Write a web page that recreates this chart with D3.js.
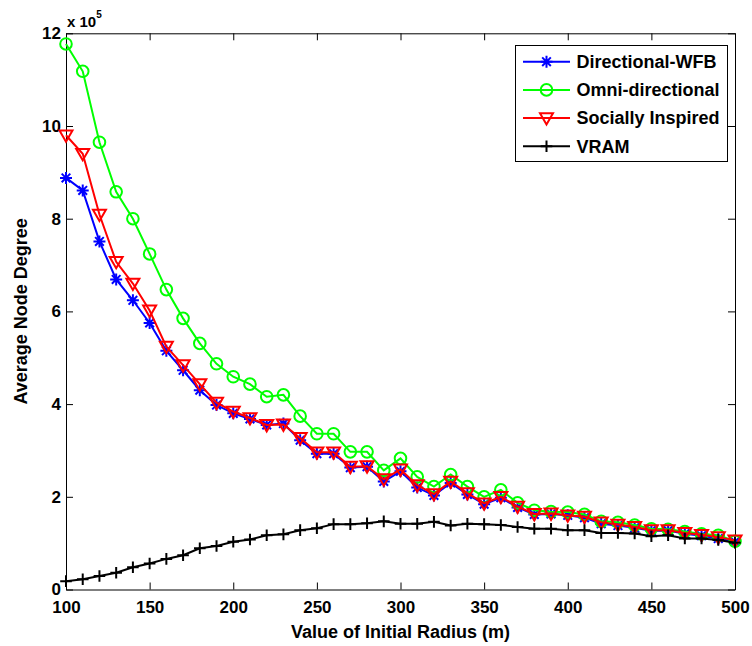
<!DOCTYPE html>
<html><head><meta charset="utf-8">
<script src="https://cdn.jsdelivr.net/npm/d3@7"></script>
<style>body{margin:0;background:#fff}svg{display:block}text{font-family:"Liberation Sans",Arial,sans-serif;font-weight:bold;fill:#000}</style>
</head><body><div id="chart"></div>
<script>
const radius = [100,110,120,130,140,150,160,170,180,190,200,210,220,230,240,250,260,270,280,290,300,310,320,330,340,350,360,370,380,390,400,410,420,430,440,450,460,470,480,490,500];
const directionalWFB = [8.88,8.61,7.51,6.69,6.24,5.75,5.15,4.73,4.30,3.98,3.80,3.68,3.55,3.58,3.22,2.93,2.93,2.63,2.65,2.33,2.55,2.20,2.03,2.30,2.05,1.84,1.98,1.77,1.62,1.63,1.60,1.55,1.42,1.38,1.33,1.27,1.27,1.20,1.16,1.10,1.03];
const omniDirectional = [11.77,11.18,9.65,8.58,8.00,7.24,6.47,5.85,5.31,4.87,4.59,4.43,4.16,4.20,3.74,3.36,3.36,2.97,2.97,2.57,2.83,2.43,2.22,2.48,2.22,2.00,2.15,1.87,1.71,1.68,1.67,1.62,1.47,1.45,1.39,1.31,1.30,1.25,1.20,1.17,1.04];
const sociallyInspired = [9.80,9.40,8.09,7.07,6.60,6.02,5.24,4.84,4.43,4.03,3.84,3.70,3.55,3.56,3.27,2.96,2.96,2.65,2.66,2.38,2.59,2.25,2.06,2.33,2.08,1.86,2.00,1.79,1.63,1.64,1.60,1.57,1.45,1.40,1.35,1.28,1.28,1.22,1.18,1.13,1.06];
const vram = [0.18,0.22,0.29,0.36,0.48,0.56,0.66,0.74,0.89,0.94,1.03,1.08,1.17,1.19,1.28,1.32,1.41,1.41,1.43,1.47,1.42,1.42,1.46,1.38,1.42,1.41,1.39,1.35,1.31,1.31,1.28,1.28,1.22,1.22,1.21,1.15,1.17,1.10,1.10,1.07,1.01];
const seriesNames = ["Directional-WFB","Omni-directional","Socially Inspired","VRAM"];
const xTicks = [100,150,200,250,300,350,400,450,500];
const yTicks = [0,2,4,6,8,10,12];
const xLabel = "Value of Initial Radius (m)";
const yLabel = "Average Node Degree";

const W = 752, H = 646;
const L = 66, R = 735, T = 33.3, B = 589.5;
const svg = d3.select("#chart").append("svg").attr("width", W).attr("height", H);
const x = d3.scaleLinear().domain([100,500]).range([L,R]);
const y = d3.scaleLinear().domain([0,12]).range([B,T]);

function styleAxis(g){
  g.select(".domain").attr("stroke","#000").attr("stroke-width",1);
  g.selectAll(".tick line").attr("stroke","#000").attr("stroke-width",1);
  g.selectAll(".tick text").style("font-size","17px").style("font-weight","bold").attr("fill","#000");
}
svg.append("g").attr("transform",`translate(0,${B})`)
  .call(d3.axisBottom(x).tickValues(xTicks).tickSizeInner(-7).tickSizeOuter(0).tickPadding(11).tickFormat(d3.format("d")))
  .call(styleAxis);
svg.append("g").attr("transform",`translate(0,${T})`)
  .call(d3.axisTop(x).tickValues(xTicks).tickSizeInner(-7).tickSizeOuter(0).tickFormat(""))
  .call(styleAxis);
svg.append("g").attr("transform",`translate(${L},0)`)
  .call(d3.axisLeft(y).tickValues(yTicks).tickSizeInner(-7).tickSizeOuter(0).tickPadding(5).tickFormat(d3.format("d")))
  .call(styleAxis);
svg.append("g").attr("transform",`translate(${R},0)`)
  .call(d3.axisRight(y).tickValues(yTicks).tickSizeInner(-7).tickSizeOuter(0).tickFormat(""))
  .call(styleAxis);

// exponent label
const ex = svg.append("text").attr("x",L+1).attr("y",27).style("font-size","15px");
ex.append("tspan").text("x 10");
ex.append("tspan").attr("dy",-9).style("font-size","10px").text("5");

svg.append("text").attr("x",(L+R)/2).attr("y",638).attr("text-anchor","middle").style("font-size","18px").text(xLabel);
svg.append("text").attr("transform",`translate(27,${(T+B)/2}) rotate(-90)`).attr("text-anchor","middle").style("font-size","18px").text(yLabel);

const markers = {
  star: (g,s)=>{ g.append("path").attr("d",`M${-s},0H${s}M0,${-s}V${s}M${-s*0.72},${-s*0.72}L${s*0.72},${s*0.72}M${-s*0.72},${s*0.72}L${s*0.72},${-s*0.72}`); },
  circle: (g,s)=>{ g.append("circle").attr("r",s).attr("fill","none"); },
  tri: (g,s)=>{ g.append("path").attr("d",`M${-s},${-s*0.75}H${s}L0,${s*1.0}Z`).attr("fill","none").attr("stroke-linejoin","miter"); },
  plus: (g,s)=>{ g.append("path").attr("d",`M${-s},0H${s}M0,${-s}V${s}`); }
};
const series = [
  {name:seriesNames[0], vals:directionalWFB, color:"#0000ff", m:"star", s:6},
  {name:seriesNames[1], vals:omniDirectional, color:"#00ff00", m:"circle", s:5.8},
  {name:seriesNames[2], vals:sociallyInspired, color:"#ff0000", m:"tri", s:6.5},
  {name:seriesNames[3], vals:vram, color:"#000000", m:"plus", s:5.8}
];
const line = d3.line().x(d=>x(d[0])).y(d=>y(d[1]));
series.forEach(sr=>{
  const pts = radius.map((r,i)=>[r,sr.vals[i]]);
  const g = svg.append("g");
  g.append("path").datum(pts).attr("d",line).attr("fill","none").attr("stroke",sr.color).attr("stroke-width",2);
  pts.forEach(p=>{
    const mg = g.append("g").attr("transform",`translate(${x(p[0])},${y(p[1])})`).attr("stroke",sr.color).attr("stroke-width",2).attr("fill","none");
    markers[sr.m](mg, sr.s);
  });
});

// legend
const lg = svg.append("g");
lg.append("rect").attr("x",515.5).attr("y",45.5).attr("width",212).attr("height",116).attr("fill","#fff").attr("stroke","#000").attr("stroke-width",1);
series.forEach((sr,i)=>{
  const yy = 61.7 + i*28.2;
  lg.append("line").attr("x1",523).attr("x2",570).attr("y1",yy).attr("y2",yy).attr("stroke",sr.color).attr("stroke-width",2);
  const mg = lg.append("g").attr("transform",`translate(546.5,${yy})`).attr("stroke",sr.color).attr("stroke-width",2).attr("fill","none");
  markers[sr.m](mg, sr.s);
  lg.append("text").attr("x",576.5).attr("y",yy+6.3).style("font-size","18px").text(sr.name);
});
</script></body></html>
